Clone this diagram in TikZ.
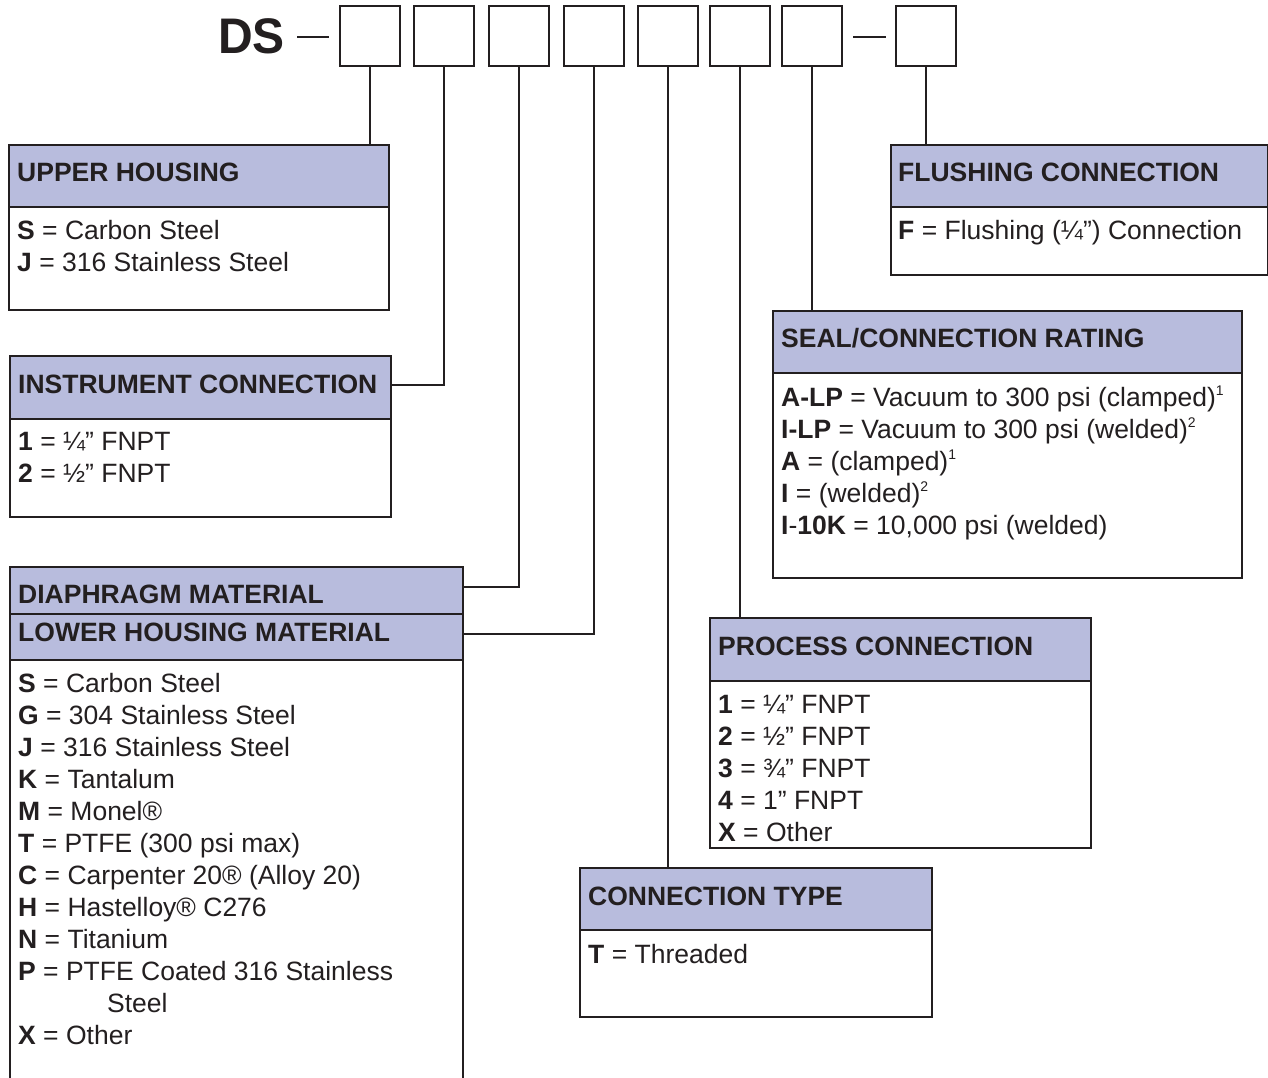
\documentclass[tikz,border=0pt]{standalone}
\usepackage{fontspec}
\setmainfont{Liberation Sans}
\definecolor{hdrfill}{RGB}{184,188,221}
\definecolor{ink}{RGB}{35,31,32}
\newcommand{\sups}[1]{\raisebox{0.40em}{\fontsize{14}{14}\selectfont #1}}
\tikzset{
  codebox/.style={draw=ink, line width=1.8pt, minimum width=60pt, minimum height=60pt, inner sep=0pt, fill=white},
  bodybox/.style={draw=ink, line width=1.8pt, anchor=north west, inner sep=0pt, fill=white},
  hdrbox/.style={draw=ink, line width=2.2pt, anchor=north west, inner sep=0pt, fill=hdrfill},
  conn/.style={draw=ink, line width=1.8pt},
  ttl/.style={anchor=base west, inner sep=0pt, font=\fontsize{26.5}{32}\selectfont\bfseries, text=ink},
  ln/.style={anchor=base west, inner sep=0pt, font=\fontsize{26.5}{32}\selectfont, text=ink},
}
\begin{document}
\begin{tikzpicture}[x=1pt,y=-1pt]
\useasboundingbox[fill=white] (0,0) rectangle (1268,1078);

% code boxes
\node[anchor=base west, inner sep=0pt, font=\fontsize{50}{50}\selectfont\bfseries, text=ink, xscale=0.96] (ds) at (218,54) {DS};
\node[codebox] (c1) at (370,36) {};
\node[codebox] (c2) at (444,36) {};
\node[codebox] (c3) at (519,36) {};
\node[codebox] (c4) at (594,36) {};
\node[codebox] (c5) at (668,36) {};
\node[codebox] (c6) at (740,36) {};
\node[codebox] (c7) at (812,36) {};
\node[codebox] (c8) at (926,36) {};
\coordinate (d1a) at (297,37);
\coordinate (d2a) at (853,37);
\draw[conn] (d1a) -- ([xshift=-10pt,yshift=-1pt]c1.west);
\draw[conn] (d2a) -- ([xshift=-9pt,yshift=-1pt]c8.west);

% boxes: bodies
\node[bodybox, minimum width=380pt, minimum height=165pt] (uh) at (8,144) {};
\node[hdrbox, minimum width=380pt, minimum height=62pt] (uhh) at (8,144) {};
\node[bodybox, minimum width=381pt, minimum height=161pt] (ic) at (9,355) {};
\node[hdrbox, minimum width=381pt, minimum height=63pt] (ich) at (9,355) {};
\node[bodybox, minimum width=453pt, minimum height=530pt] (dm) at (9,566) {};
\node[hdrbox, minimum width=453pt, minimum height=47pt] (dmh) at (9,566) {};
\node[hdrbox, minimum width=453pt, minimum height=46pt] (lhh) at (9,613) {};
\node[bodybox, minimum width=469pt, minimum height=267pt] (sr) at (772,310) {};
\node[hdrbox, minimum width=469pt, minimum height=62pt] (srh) at (772,310) {};
\node[bodybox, minimum width=377pt, minimum height=130pt] (fc) at (890,144) {};
\node[hdrbox, minimum width=377pt, minimum height=62pt] (fch) at (890,144) {};
\node[bodybox, minimum width=381pt, minimum height=230pt] (pc) at (709,617) {};
\node[hdrbox, minimum width=381pt, minimum height=63pt] (pch) at (709,617) {};
\node[bodybox, minimum width=352pt, minimum height=149pt] (ct) at (579,867) {};
\node[hdrbox, minimum width=352pt, minimum height=62pt] (cth) at (579,867) {};

% connectors
\draw[conn] (c1.south) -- (c1.south |- uh.north);
\draw[conn] (c2.south) |- ([yshift=3pt]ich.east);
\draw[conn] (c3.south) |- ([yshift=4pt]dmh.east);
\draw[conn] (c4.south) |- ([yshift=3pt]lhh.east);
\draw[conn] (c5.south) -- (c5.south |- ct.north);
\draw[conn] (c6.south) -- (c6.south |- pc.north);
\draw[conn] (c7.south) -- (c7.south |- sr.north);
\draw[conn] (c8.south) -- (c8.south |- fc.north);

% upper housing
\node[ttl] (uht) at (17,182) {UPPER HOUSING};
\node[ln] (uh1) at (17,239) {\textbf{S} = Carbon Steel};
\node[ln] (uh2) at (17,271) {\textbf{J} = 316 Stainless Steel};

% instrument connection
\node[ttl] (ict) at (18,393) {INSTRUMENT CONNECTION};
\node[ln] (ic1) at (18,450) {\textbf{1} = ¼” FNPT};
\node[ln] (ic2) at (18,482) {\textbf{2} = ½” FNPT};

% diaphragm / lower housing
\node[ttl] (dmt) at (18,603) {DIAPHRAGM MATERIAL};
\node[ttl] (lht) at (18,641) {LOWER HOUSING MATERIAL};
\node[ln] (dm1) at (18,692) {\textbf{S} = Carbon Steel};
\node[ln] (dm2) at (18,724) {\textbf{G} = 304 Stainless Steel};
\node[ln] (dm3) at (18,756) {\textbf{J} = 316 Stainless Steel};
\node[ln] (dm4) at (18,788) {\textbf{K} = Tantalum};
\node[ln] (dm5) at (18,820) {\textbf{M} = Monel®};
\node[ln] (dm6) at (18,852) {\textbf{T} = PTFE (300 psi max)};
\node[ln] (dm7) at (18,884) {\textbf{C} = Carpenter 20® (Alloy 20)};
\node[ln] (dm8) at (18,916) {\textbf{H} = Hastelloy® C276};
\node[ln] (dm9) at (18,948) {\textbf{N} = Titanium};
\node[ln] (dm10) at (18,980) {\textbf{P} = PTFE Coated 316 Stainless};
\node[ln] (dm11) at (107,1012) {Steel};
\node[ln] (dm12) at (18,1044) {\textbf{X} = Other};

% seal / connection rating
\node[ttl] (srt) at (781,347) {SEAL/CONNECTION RATING};
\node[ln] (sr1) at (781,406) {\textbf{A-LP} = Vacuum to 300 psi (clamped)\sups{1}};
\node[ln] (sr2) at (781,438) {\textbf{I-LP} = Vacuum to 300 psi (welded)\sups{2}};
\node[ln] (sr3) at (781,470) {\textbf{A} = (clamped)\sups{1}};
\node[ln] (sr4) at (781,502) {\textbf{I} = (welded)\sups{2}};
\node[ln] (sr5) at (781,534) {\textbf{I}-\textbf{10K} = 10,000 psi (welded)};

% flushing connection
\node[ttl] (fct) at (898,182) {FLUSHING CONNECTION};
\node[ln] (fc1) at (898,239) {\textbf{F} = Flushing (¼”) Connection};

% process connection
\node[ttl] (pct) at (718,655) {PROCESS CONNECTION};
\node[ln] (pc1) at (718,713) {\textbf{1} = ¼” FNPT};
\node[ln] (pc2) at (718,745) {\textbf{2} = ½” FNPT};
\node[ln] (pc3) at (718,777) {\textbf{3} = ¾” FNPT};
\node[ln] (pc4) at (718,809) {\textbf{4} = 1” FNPT};
\node[ln] (pc5) at (718,841) {\textbf{X} = Other};

% connection type
\node[ttl] (ctt) at (588,905) {CONNECTION TYPE};
\node[ln] (ct1) at (588,963) {\textbf{T} = Threaded};
\end{tikzpicture}
\end{document}
